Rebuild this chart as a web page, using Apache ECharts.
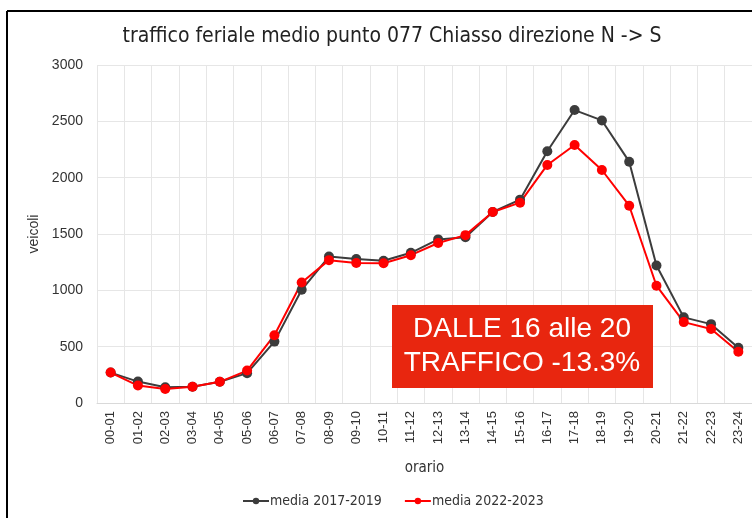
<!DOCTYPE html>
<html>
<head>
<meta charset="utf-8">
<script src="https://cdn.jsdelivr.net/npm/echarts@6/dist/echarts.min.js"></script>
<style>
  html, body { margin: 0; padding: 0; background: #fff; }
  #chart { width: 752px; height: 518px; }
</style>
</head>
<body>
<div id="chart"></div>
<script>
// fasce orarie
const orari = ['00-01', '01-02', '02-03', '03-04', '04-05', '05-06', '06-07', '07-08',
  '08-09', '09-10', '10-11', '11-12', '12-13', '13-14', '14-15', '15-16',
  '16-17', '17-18', '18-19', '19-20', '20-21', '21-22', '22-23', '23-24'];

// veicoli medi per ora
const media2017_2019 = [270, 190, 140, 145, 188, 265, 545, 1005, 1300, 1278, 1262, 1333, 1452, 1472,
  1695, 1805, 2235, 2600, 2508, 2142, 1220, 760, 700, 490];
const media2022_2023 = [270, 155, 124, 145, 188, 288, 602, 1070, 1268, 1243, 1240, 1312, 1420, 1490,
  1695, 1778, 2113, 2290, 2068, 1751, 1041, 718, 657, 455];

const yTicks = [0, 3000, 500];

const narrow = '"DejaVu Sans Condensed", "Roboto Condensed", sans-serif';

const chart = echarts.init(document.getElementById('chart'));

const option = {
  backgroundColor: '#fff',
  animation: false,
  title: {
    text: 'traffico feriale medio punto 077 Chiasso direzione N -> S',
    left: 387,
    textAlign: 'center',
    top: 21,
    textStyle: {
      fontFamily: narrow,
      fontWeight: 'normal',
      fontSize: 21,
      color: '#222'
    }
  },
  legend: {
    bottom: 5,
    left: 237,
    itemGap: 22,
    itemWidth: 26,
    itemHeight: 8,
    textStyle: { fontFamily: narrow, fontSize: 14, color: '#333', padding: [0, 0, 0, -4] },
    data: ['media 2017-2019', 'media 2022-2023']
  },
  grid: { left: 97, top: 65, width: 656, bottom: 115 },
  xAxis: {
    type: 'category',
    data: orari,
    boundaryGap: true,
    name: 'orario',
    nameLocation: 'middle',
    nameGap: 58,
    nameTextStyle: { fontFamily: narrow, fontSize: 15, color: '#333' },
    axisLine: { lineStyle: { color: '#d9d9d9' } },
    axisTick: { show: false },
    axisLabel: { rotate: 90, fontFamily: 'Liberation Sans', fontSize: 13, color: '#333', margin: 8 },
    splitLine: { show: true, lineStyle: { color: '#e6e6e6' } }
  },
  yAxis: {
    type: 'value',
    min: yTicks[0],
    max: yTicks[1],
    interval: yTicks[2],
    name: 'veicoli',
    nameLocation: 'middle',
    nameGap: 55,
    nameTextStyle: { fontFamily: 'Liberation Sans', fontSize: 14, color: '#333' },
    axisLabel: {
      fontFamily: 'Liberation Sans', fontSize: 14, color: '#333', margin: 14,
      formatter: v => String(v)
    },
    axisLine: { show: false },
    axisTick: { show: false },
    splitLine: { lineStyle: { color: '#e6e6e6' } }
  },
  series: [
    {
      name: 'media 2017-2019',
      type: 'line',
      data: media2017_2019,
      symbol: 'circle',
      symbolSize: 10,
      itemStyle: { color: '#3c3c3c' },
      lineStyle: { color: '#3c3c3c', width: 2 }
    },
    {
      name: 'media 2022-2023',
      type: 'line',
      data: media2022_2023,
      symbol: 'circle',
      symbolSize: 10,
      itemStyle: { color: '#ff0000' },
      lineStyle: { color: '#ff0000', width: 2 }
    }
  ],
  graphic: [
    // cornice
    { type: 'line', shape: { x1: 7, y1: 11, x2: 752, y2: 11 }, style: { stroke: '#000', lineWidth: 2 }, z: 100 },
    { type: 'line', shape: { x1: 7, y1: 11, x2: 7, y2: 518 }, style: { stroke: '#000', lineWidth: 2 }, z: 100 },
    // box annotazione
    {
      type: 'rect',
      shape: { x: 392, y: 305, width: 261, height: 83 },
      style: { fill: '#e8260f' },
      z: 100
    },
    {
      type: 'text',
      x: 522, y: 329,
      style: {
        text: 'DALLE 16 alle 20',
        fill: '#fff',
        font: '28px "Liberation Sans"',
        textAlign: 'center',
        textVerticalAlign: 'middle'
      },
      z: 101
    },
    {
      type: 'text',
      x: 522, y: 363,
      style: {
        text: 'TRAFFICO -13.3%',
        fill: '#fff',
        font: '28px "Liberation Sans"',
        textAlign: 'center',
        textVerticalAlign: 'middle'
      },
      z: 101
    }
  ]
};

chart.setOption(option);
</script>
</body>
</html>
